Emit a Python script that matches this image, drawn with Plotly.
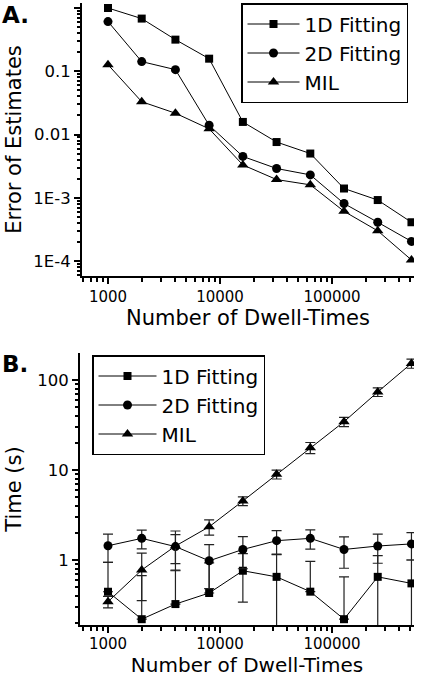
import plotly.graph_objects as go

# ---------------- data ----------------
n_dwell = [1000, 2000, 4000, 8000, 16000, 32000, 64000, 128000, 256000, 512000]

# Panel A: error of estimates
err_1d = [1.0, 0.68, 0.316, 0.158, 0.0158, 0.0076, 0.005, 0.0014, 0.00092, 0.00041]
err_2d = [0.61, 0.142, 0.106, 0.014, 0.0045, 0.0029, 0.0023, 0.00081, 0.00041, 0.000204]
err_mil = [0.127, 0.033, 0.0217, 0.0123, 0.0033, 0.00194, 0.0016, 0.00061, 0.0003, 0.000104]

# Panel B: computation time (s) and its spread
time_1d = [0.444, 0.22, 0.324, 0.43, 0.76, 0.65, 0.445, 0.22, 0.65, 0.55]
time_1d_sd = [0.5, 0.45, 0.45, 0.5, 0.42, 0.5, 0.52, 0.43, 0.47, 0.45]
time_2d = [1.44, 1.74, 1.41, 0.98, 1.31, 1.64, 1.74, 1.31, 1.43, 1.51]
time_2d_sd = [0.5, 0.41, 0.5, 0.5, 0.51, 0.48, 0.42, 0.5, 0.51, 0.51]
time_mil = [0.344, 0.774, 1.43, 2.34, 4.53, 8.95, 17.7, 34.4, 73.6, 153]
time_mil_sd = [0.05, 0.42, 0.67, 0.45, 0.5, 1.0, 2.5, 4.0, 8.0, 18.0]

series_names = ["1D Fitting", "2D Fitting", "MIL"]
symbols = ["square", "circle", "triangle-up"]
marker_sizes = [8, 9, 10]

x_tick_vals = [1000, 10000, 100000]
x_tick_text = ["1000", "10000", "100000"]
ya_tick_vals = [1e-4, 1e-3, 1e-2, 1e-1, 1]
ya_tick_text = ["1E-4", "1E-3", "0.01", "0.1", "1"]
yb_tick_vals = [1, 10, 100]
yb_tick_text = ["1", "10", "100"]

W, H = 423, 677
FONT = "DejaVu Sans"


def minor_vals(lo_exp, hi_exp):
    return [m * 10 ** e for e in range(lo_exp, hi_exp) for m in range(2, 10)]


def lower_err(vals, sds):
    # lower bars that would reach zero on a log scale are omitted
    return [s if v - s > 0 else 0 for v, s in zip(vals, sds)]


fig = go.Figure()

for name, ys, sym, ms in zip(series_names, [err_1d, err_2d, err_mil], symbols, marker_sizes):
    fig.add_trace(go.Scatter(
        x=n_dwell, y=ys, name=name, mode="lines+markers",
        line=dict(color="black", width=1),
        marker=dict(symbol=sym, size=ms, color="black"),
        xaxis="x", yaxis="y", legend="legend",
    ))

for name, ys, sds, sym, ms in zip(series_names, [time_1d, time_2d, time_mil],
                                  [time_1d_sd, time_2d_sd, time_mil_sd], symbols, marker_sizes):
    fig.add_trace(go.Scatter(
        x=n_dwell, y=ys, name=name, mode="lines+markers",
        line=dict(color="black", width=1),
        marker=dict(symbol=sym, size=ms, color="black"),
        error_y=dict(type="data", symmetric=False, array=sds,
                     arrayminus=lower_err(ys, sds),
                     color="#222", thickness=1.2, width=5),
        xaxis="x2", yaxis="y2", legend="legend2",
    ))


def px_x(p):
    return p / W


def px_y(p):
    return 1 - p / H


axis_common = dict(
    type="log", showgrid=False, zeroline=False, showline=True,
    linecolor="black", linewidth=2, ticks="outside", ticklen=6,
    tickwidth=1.5, tickcolor="black", mirror=False, automargin=False,
)
xfont = dict(family=FONT, size=15, color="black")
yfont = dict(family=FONT, size=16.5, color="black")

xminor = dict(tickvals=minor_vals(2, 6), ticks="outside", ticklen=3.5,
              tickwidth=1.5, tickcolor="black")

fig.update_layout(
    width=W, height=H,
    margin=dict(l=0, r=0, t=0, b=0),
    paper_bgcolor="white", plot_bgcolor="white",
    font=dict(family=FONT, color="black"),
    xaxis=dict(axis_common, domain=[px_x(82), px_x(414)], range=[2.768, 5.732],
               anchor="y", tickvals=x_tick_vals, ticktext=x_tick_text, minor=xminor,
               tickfont=xfont,
               title=dict(text="Number of Dwell-Times", font=dict(family=FONT, size=21), standoff=5)),
    yaxis=dict(axis_common, domain=[px_y(276), px_y(3)], range=[-4.237, 0.079],
               anchor="x", tickvals=ya_tick_vals, ticktext=ya_tick_text, tickfont=yfont,
               minor=dict(tickvals=minor_vals(-5, 1), ticks="outside", ticklen=3.5,
                          tickwidth=1.5, tickcolor="black"),
               title=dict(text="Error of Estimates", font=dict(family=FONT, size=21), standoff=6)),
    xaxis2=dict(axis_common, domain=[px_x(80), px_x(414)], range=[2.75, 5.732],
                anchor="y2", tickvals=x_tick_vals, ticktext=x_tick_text, minor=xminor,
                tickfont=xfont, ticklabelstandoff=-2,
                title=dict(text="Number of Dwell-Times", font=dict(family=FONT, size=20), standoff=6)),
    yaxis2=dict(axis_common, domain=[px_y(625), px_y(353)], range=[-0.722, 2.3],
                anchor="x2", tickvals=yb_tick_vals, ticktext=yb_tick_text, tickfont=yfont,
                minor=dict(tickvals=minor_vals(-1, 3), ticks="outside", ticklen=3.5,
                           tickwidth=1.5, tickcolor="black"),
                title=dict(text="Time (s)", font=dict(family=FONT, size=21), standoff=10)),
    legend=dict(x=px_x(241), y=px_y(3), xanchor="left", yanchor="top",
                bordercolor="black", borderwidth=1.5, bgcolor="white",
                font=dict(family=FONT, size=20), itemwidth=52),
    legend2=dict(x=px_x(92), y=px_y(355), xanchor="left", yanchor="top",
                 bordercolor="black", borderwidth=1.5, bgcolor="white",
                 font=dict(family=FONT, size=20), itemwidth=58),
    showlegend=True,
    annotations=[
        dict(text="<b>A.</b>", x=0, y=px_y(15), xref="paper", yref="paper",
             xanchor="left", yanchor="middle", showarrow=False,
             font=dict(family=FONT, size=23, color="black")),
        dict(text="<b>B.</b>", x=0, y=px_y(364), xref="paper", yref="paper",
             xanchor="left", yanchor="middle", showarrow=False,
             font=dict(family=FONT, size=23, color="black")),
    ],
)

fig.write_html(
    "out.html",
    config={"displayModeBar": False},
    post_script="document.body.style.margin='0';document.body.style.overflow='hidden';",
)
